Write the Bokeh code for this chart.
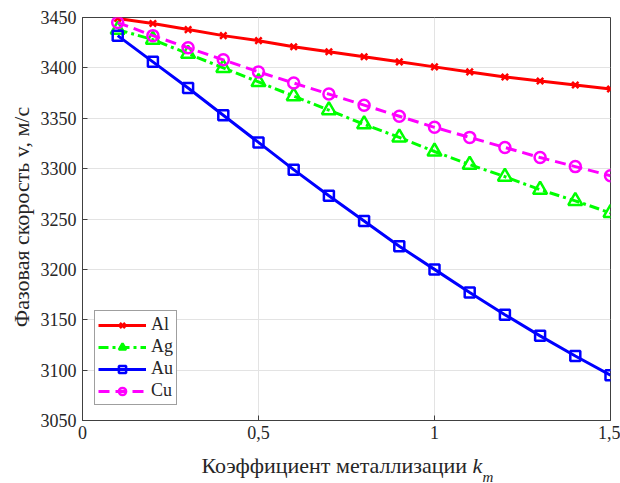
import numpy as np
from bokeh.plotting import figure
from bokeh.models import Range1d, Label, FixedTicker, Legend, LegendItem
from bokeh.embed import file_html
from bokeh.resources import INLINE

km = [0.1, 0.2, 0.3, 0.4, 0.5, 0.6, 0.7, 0.8, 0.9, 1.0, 1.1, 1.2, 1.3, 1.4, 1.5]
v_al = [3449, 3444, 3438, 3432, 3427, 3421, 3416, 3411, 3406, 3401, 3396, 3391, 3387, 3383, 3379]
v_ag = [3438, 3428, 3414, 3400, 3386, 3372, 3358, 3344, 3331, 3317, 3304, 3292, 3279, 3268, 3256]
v_au = [3432, 3406, 3380, 3353, 3326, 3299, 3273, 3248, 3223, 3200, 3177, 3155, 3134, 3114, 3095]
v_cu = [3445, 3432, 3420, 3408, 3396, 3385, 3374, 3363, 3352, 3341, 3331, 3321, 3311, 3302, 3293]

x_ticks = [0, 0.5, 1, 1.5]
x_tick_labels = ["0", "0,5", "1", "1,5"]
y_ticks = [3050, 3100, 3150, 3200, 3250, 3300, 3350, 3400, 3450]

FONT = "Liberation Serif"
AX = "#404040"
TXT = "#262626"

p = figure(width=620, height=483, output_backend="svg", toolbar_location=None,
           x_range=Range1d(0, 1.5), y_range=Range1d(3050, 3450),
           min_border_left=82, min_border_right=10, min_border_top=17, min_border_bottom=63)
p.background_fill_color = "white"
p.border_fill_color = "white"
p.outline_line_color = AX
p.outline_line_width = 1

p.axis.major_label_text_font = FONT
p.axis.major_label_text_font_size = "18px"
p.axis.major_label_text_color = TXT
p.axis.major_tick_in = 5
p.axis.major_tick_out = 0
p.axis.minor_tick_in = 0
p.axis.minor_tick_out = 0
p.axis.axis_line_color = AX
p.axis.major_tick_line_color = AX
p.xaxis.ticker = FixedTicker(ticks=x_ticks)
p.xaxis.major_label_overrides = {t: l for t, l in zip(x_ticks, x_tick_labels)}
p.yaxis.ticker = FixedTicker(ticks=y_ticks)
p.xaxis.major_label_standoff = 5
p.yaxis.major_label_standoff = 6

p.xgrid.ticker = FixedTicker(ticks=x_ticks)
p.ygrid.ticker = FixedTicker(ticks=y_ticks)
p.grid.grid_line_color = "#e3e3e3"
p.grid.grid_line_width = 1

items = []
l1 = p.line(km, v_al, line_color="#ff0000", line_width=3)
s1 = p.scatter(km, v_al, marker="x", size=9, line_color="#ff0000", line_width=2.5)
items.append(LegendItem(label="Al", renderers=[l1, s1]))
l2 = p.line(km, v_ag, line_color="#00ff00", line_width=3, line_dash="10 4 3 4")
s2 = p.scatter(km, v_ag, marker="triangle", size=14, line_color="#00ff00", line_width=2.5, fill_alpha=0)
items.append(LegendItem(label="Ag", renderers=[l2, s2]))
l3 = p.line(km, v_au, line_color="#0000ff", line_width=3)
s3 = p.scatter(km, v_au, marker="square", size=10, line_color="#0000ff", line_width=2.5, fill_alpha=0)
items.append(LegendItem(label="Au", renderers=[l3, s3]))
l4 = p.line(km, v_cu, line_color="#ff00ff", line_width=3, line_dash="11 6")
s4 = p.scatter(km, v_cu, marker="circle", size=11, line_color="#ff00ff", line_width=2.5, fill_alpha=0)
items.append(LegendItem(label="Cu", renderers=[l4, s4]))

legend = Legend(items=items, location=(12, 15))
legend.label_text_font = FONT
legend.label_text_font_size = "18px"
legend.label_text_color = TXT
legend.glyph_width = 48
legend.glyph_height = 18
legend.label_height = 18
legend.label_standoff = 5
legend.spacing = 1
legend.padding = 3
legend.margin = 0
legend.border_line_color = AX
legend.border_line_width = 1
legend.background_fill_alpha = 1
p.add_layout(legend, "center")


def lab(x, y, text, side, size="22px", style="normal", align="left", angle=0.0):
    p.add_layout(Label(x=x, y=y, x_units="canvas", y_units="canvas", text=text,
                       text_font=FONT, text_font_size=size, text_font_style=style,
                       text_align=align, text_baseline="alphabetic", angle=angle,
                       text_color=TXT), side)


# x axis label pieces (absolute canvas positions; side panels chosen only for room)
xk = 472
lab(xk, 465, "Коэффициент металлизации ", "below", align="right")
lab(xk, 465, "k", "left", style="italic")
lab(xk + 10, 476, "m", "above", size="15px", style="italic")

# y axis label (rotated)
lab(21, 216.5, "Фазовая скорость v, м/с", "left", align="center", angle=np.pi / 2)

open("out.html", "w").write(file_html(p, INLINE))
